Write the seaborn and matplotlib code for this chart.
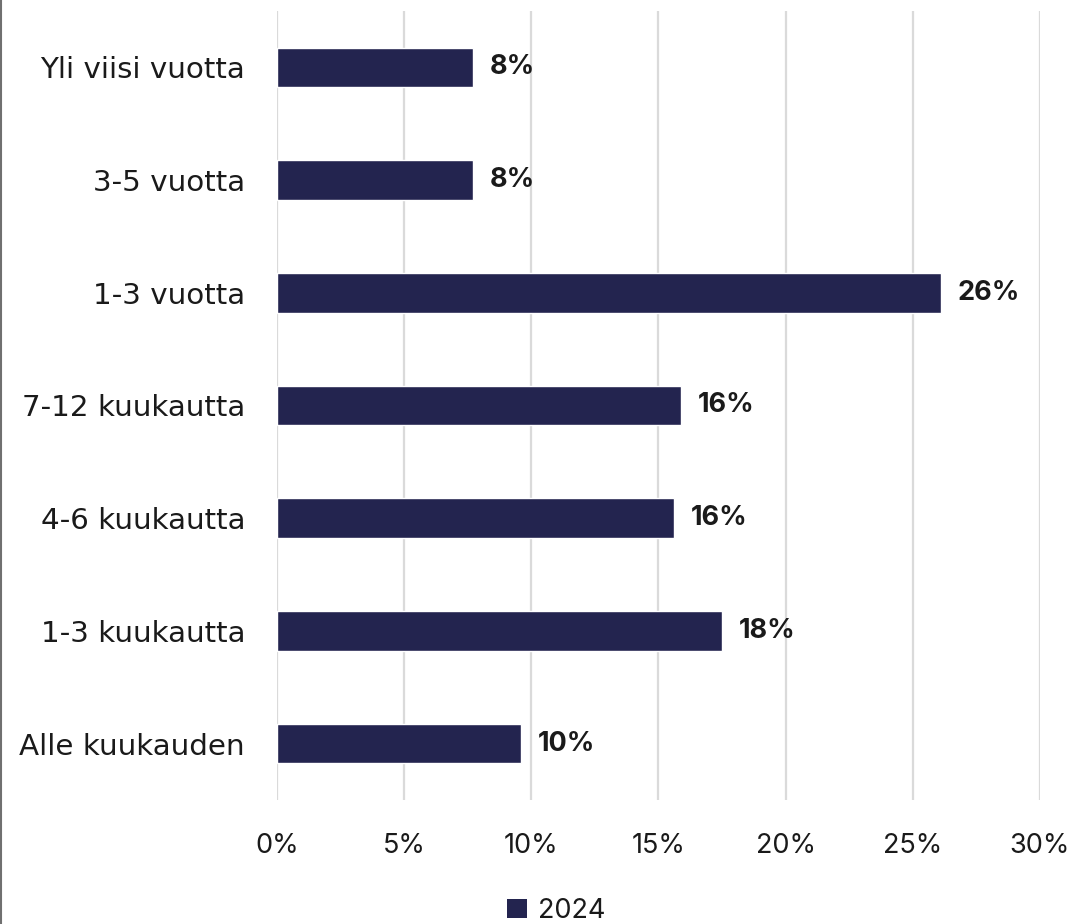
import matplotlib
matplotlib.use("Agg")
import matplotlib.pyplot as plt
from matplotlib.patches import Patch
from matplotlib.lines import Line2D
import seaborn as sns
import pandas as pd

# Kesto-luokat ylhäältä alas ja osuudet (%)
categories = [
    "Yli viisi vuotta",
    "3-5 vuotta",
    "1-3 vuotta",
    "7-12 kuukautta",
    "4-6 kuukautta",
    "1-3 kuukautta",
    "Alle kuukauden",
]
shares_2024 = [7.7, 7.7, 26.1, 15.9, 15.6, 17.5, 9.6]
x_ticks = [0, 5, 10, 15, 20, 25, 30]
series_name = "2024"

BAR_COLOR = "#23244f"
TEXT_COLOR = "#1a1a1a"
GRID_COLOR = "#dadada"

sns.set_theme(style="white")
plt.rcParams["font.family"] = ["Inter", "DejaVu Sans"]

df = pd.DataFrame({"kesto": categories, "osuus": shares_2024})

fig = plt.figure(figsize=(10.74, 9.24), dpi=100)
ax = fig.add_axes([277 / 1074, 1 - 800 / 924, (1040 - 277) / 1074, (800 - 11) / 924])

sns.barplot(data=df, x="osuus", y="kesto", orient="h", color=BAR_COLOR,
            width=0.35, saturation=1, ax=ax, zorder=3)

ax.set_xlim(0, 30)
ax.set_ylim(6.5, -0.5)
ax.set_xticks(x_ticks)
ax.set_xticklabels([f"{t}%" for t in x_ticks])
ax.set_xlabel("")
ax.set_ylabel("")
ax.xaxis.grid(True, color=GRID_COLOR, linewidth=1.6, zorder=0)
ax.yaxis.grid(False)
for s in ax.spines.values():
    s.set_visible(False)
ax.tick_params(axis="x", length=0, pad=24, labelsize=19.5, colors=TEXT_COLOR)
ax.tick_params(axis="y", length=0, pad=23, colors=TEXT_COLOR)
for lab in ax.get_yticklabels():
    lab.set_fontfamily(["DejaVu Sans"])
    lab.set_fontsize(21.2)

# Arvomerkinnät palkkien perään
for i, v in enumerate(shares_2024):
    ax.annotate(f"{v:.0f}%", xy=(v, i), xytext=(12, 0), textcoords="offset points",
                va="center", ha="left", fontsize=19.5, fontweight="bold",
                color=TEXT_COLOR)

# Selite alareunassa
handle = Patch(facecolor=BAR_COLOR, edgecolor="none")
fig.legend([handle], [series_name], loc="center", bbox_to_anchor=(556 / 1074, 1 - 911 / 924),
           frameon=False, fontsize=19.5, handlelength=0.75, handleheight=0.75,
           handletextpad=0.4, labelcolor=TEXT_COLOR)

# Kehyksen vasen reunaviiva
fig.add_artist(Line2D([0.0008, 0.0008], [0, 1], transform=fig.transFigure,
                      color="#707070", linewidth=1.5))

fig.savefig("out.png", dpi=100)
